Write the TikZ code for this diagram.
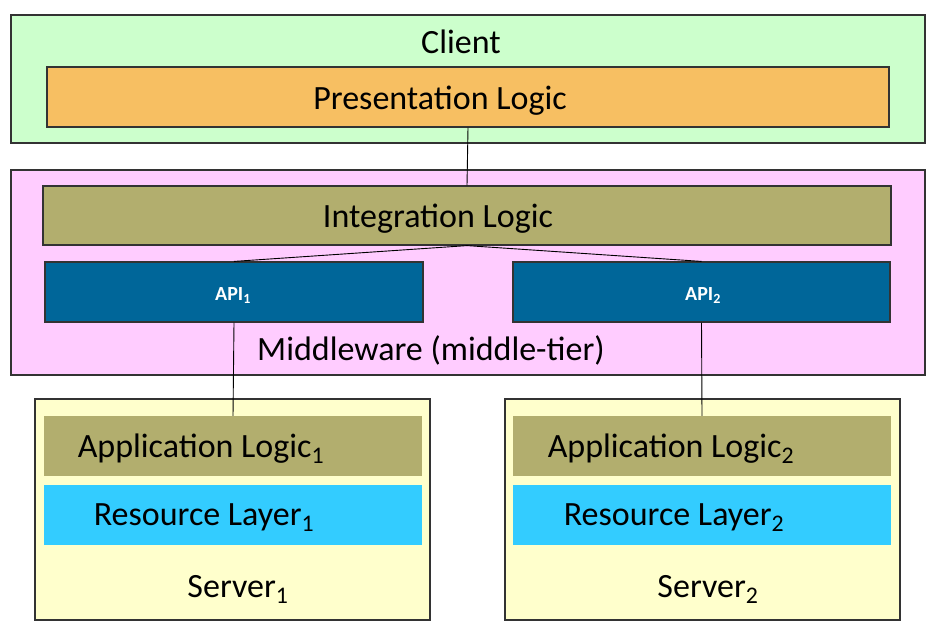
\documentclass[tikz,border=0pt]{standalone}
\usepackage{fontspec}
\setmainfont{Carlito}
\usetikzlibrary{positioning}
\definecolor{clientgreen}{HTML}{CCFFCC}
\definecolor{presorange}{HTML}{F7BF62}
\definecolor{midpink}{HTML}{FFCCFF}
\definecolor{logicolive}{HTML}{B2AE6E}
\definecolor{apiblue}{HTML}{006699}
\definecolor{serveryellow}{HTML}{FFFFCC}
\definecolor{resblue}{HTML}{33CCFF}
\definecolor{edgegray}{HTML}{333333}

\begin{document}
\begin{tikzpicture}[x=1pt, y=-1pt,
  box/.style={draw=edgegray, line width=1.2pt, rectangle, inner sep=0pt},
  band/.style={rectangle, inner sep=0pt},
  txt/.style={anchor=base, inner sep=0pt, font=\fontsize{34}{40}\selectfont},
  apitxt/.style={anchor=base, inner sep=0pt, text=white, font=\fontsize{20}{24}\selectfont\bfseries}]
  \useasboundingbox (0,0) rectangle (936,633);

  % Client
  \node[box, fill=clientgreen, minimum width=914pt, minimum height=128pt] (client) at (468,79) {};
  \node[txt] (clienttxt) at (461,53) {Client};
  \node[box, fill=presorange, minimum width=842pt, minimum height=60pt] (pres) at (468,97) {};
  \node[txt] (prestxt) at (440,109) {Presentation Logic};

  % Middleware
  \node[box, fill=midpink, minimum width=914pt, minimum height=205pt] (mid) at (468,272.5) {};
  \node[box, fill=logicolive, minimum width=848pt, minimum height=59pt] (integ) at (467,215.5) {};
  \node[txt] (integtxt) at (438,227) {Integration Logic};
  \node[box, fill=apiblue, minimum width=378pt, minimum height=60pt] (api1) at (234,292) {};
  \node[box, fill=apiblue, minimum width=377pt, minimum height=60pt] (api2) at (701.5,292) {};
  \node[apitxt] (api1txt) at (233,300) {API\textsubscript{1}};
  \node[apitxt] (api2txt) at (703,300) {API\textsubscript{2}};
  \node[txt] (midtxt) at (431,360) {Middleware (middle-tier)};

  % Server 1
  \node[box, fill=serveryellow, minimum width=395pt, minimum height=221pt] (srv1) at (232.5,509.5) {};
  \node[band, fill=logicolive, minimum width=378pt, minimum height=60pt] (app1) at (233,446) {};
  \node[band, fill=resblue, minimum width=378pt, minimum height=60pt] (res1) at (233,515) {};
  \node[txt] (app1txt) at (201,457) {Application Logic\textsubscript{1}};
  \node[txt] (res1txt) at (204,525) {Resource Layer\textsubscript{1}};
  \node[txt] (srv1txt) at (238,597) {Server\textsubscript{1}};

  % Server 2
  \node[box, fill=serveryellow, minimum width=395pt, minimum height=221pt] (srv2) at (702.5,509.5) {};
  \node[band, fill=logicolive, minimum width=378pt, minimum height=60pt] (app2) at (702,446) {};
  \node[band, fill=resblue, minimum width=378pt, minimum height=60pt] (res2) at (702,515) {};
  \node[txt] (app2txt) at (671,457) {Application Logic\textsubscript{2}};
  \node[txt] (res2txt) at (674,525) {Resource Layer\textsubscript{2}};
  \node[txt] (srv2txt) at (708,597) {Server\textsubscript{2}};

  % connectors
  \draw[line width=0.9pt] (pres.south) -- (integ.north);
  \draw[line width=0.9pt] (integ.south) -- (api1.north);
  \draw[line width=0.9pt] (integ.south) -- (api2.north);
  \draw[line width=0.9pt] (api1.south) -- (app1.north);
  \draw[line width=0.9pt] (api2.south) -- (app2.north);
\end{tikzpicture}
\end{document}
